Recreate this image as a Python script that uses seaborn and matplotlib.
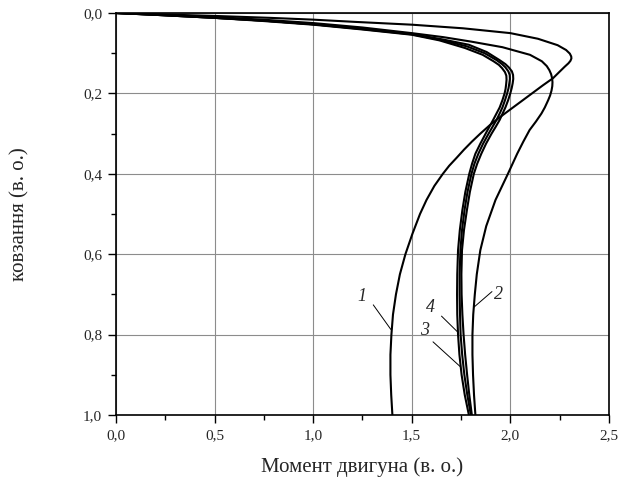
import pandas as pd
import seaborn as sns
from matplotlib import pyplot as plt
from matplotlib.ticker import MultipleLocator, FuncFormatter

# slip (s) and torque (M), per curve
c1_s = [0.000, 0.003, 0.0074, 0.012, 0.0165, 0.022, 0.029, 0.038, 0.050, 0.064, 0.080,
        0.092, 0.101, 0.108, 0.113, 0.119, 0.125, 0.134, 0.146, 0.162, 0.180, 0.200,
        0.220, 0.241, 0.260, 0.279, 0.300, 0.320, 0.340, 0.360, 0.380, 0.400, 0.430,
        0.465, 0.500, 0.550, 0.600, 0.650, 0.700, 0.750, 0.800, 0.850, 0.900, 0.950, 1.000]
c1_m = [0.00, 0.20, 0.51, 0.78, 1.00, 1.21, 1.50, 1.76, 2.00, 2.14, 2.24,
        2.283, 2.302, 2.309, 2.31, 2.305, 2.295, 2.275, 2.25, 2.217, 2.165, 2.11,
        2.055, 1.997, 1.945, 1.896, 1.848, 1.805, 1.765, 1.728, 1.69, 1.658, 1.615,
        1.575, 1.542, 1.503, 1.468, 1.440, 1.420, 1.405, 1.397, 1.392, 1.392, 1.396, 1.402]

c2_s = [0.000, 0.004, 0.010, 0.017, 0.025, 0.036, 0.050, 0.060, 0.071, 0.085, 0.104,
        0.120, 0.132, 0.142, 0.152, 0.162, 0.172, 0.182, 0.193, 0.205, 0.217, 0.235,
        0.250, 0.270, 0.291, 0.320, 0.350, 0.400, 0.465, 0.530, 0.590, 0.650, 0.700,
        0.750, 0.800, 0.850, 0.900, 0.950, 1.000]
c2_m = [0.00, 0.20, 0.50, 0.76, 1.00, 1.25, 1.50, 1.66, 1.80, 1.96, 2.10,
        2.16, 2.185, 2.198, 2.207, 2.212, 2.214, 2.213, 2.209, 2.202, 2.192, 2.175,
        2.158, 2.13, 2.098, 2.066, 2.035, 1.988, 1.925, 1.878, 1.848, 1.830, 1.820,
        1.812, 1.808, 1.808, 1.811, 1.816, 1.823]

c3_s = [0.000, 0.0045, 0.012, 0.019, 0.028, 0.040, 0.053, 0.067, 0.083, 0.100, 0.117,
        0.127, 0.135, 0.145, 0.154, 0.164, 0.175, 0.187, 0.200, 0.217, 0.235, 0.250,
        0.266, 0.283, 0.300, 0.325, 0.350, 0.375, 0.400, 0.445, 0.490, 0.540, 0.590,
        0.650, 0.700, 0.750, 0.800, 0.850, 0.900, 0.950, 1.000]
c3_m = [0.00, 0.20, 0.50, 0.75, 1.00, 1.25, 1.50, 1.65, 1.78, 1.87, 1.93,
        1.958, 1.975, 1.990, 1.997, 1.998, 1.995, 1.991, 1.984, 1.973, 1.960, 1.946,
        1.930, 1.910, 1.890, 1.862, 1.838, 1.818, 1.803, 1.783, 1.768, 1.755, 1.747,
        1.743, 1.743, 1.745, 1.748, 1.756, 1.767, 1.782, 1.800]

c4_s = [0.000, 0.0045, 0.012, 0.020, 0.029, 0.041, 0.054, 0.068, 0.087, 0.104, 0.120,
        0.129, 0.137, 0.147, 0.156, 0.166, 0.177, 0.189, 0.200, 0.217, 0.235, 0.250,
        0.266, 0.283, 0.300, 0.325, 0.350, 0.375, 0.400, 0.445, 0.490, 0.540, 0.590,
        0.650, 0.700, 0.750, 0.800, 0.850, 0.900, 0.950, 1.000]
c4_m = [0.00, 0.20, 0.50, 0.75, 1.00, 1.25, 1.50, 1.64, 1.77, 1.86, 1.915,
        1.942, 1.958, 1.973, 1.980, 1.981, 1.979, 1.976, 1.971, 1.960, 1.946, 1.930,
        1.913, 1.894, 1.875, 1.848, 1.823, 1.806, 1.792, 1.772, 1.757, 1.744, 1.735,
        1.731, 1.730, 1.731, 1.735, 1.742, 1.753, 1.769, 1.790]

# third close curve of the bundle, not numbered on the chart
c5_s = [0.000, 0.0045, 0.012, 0.019, 0.028, 0.039, 0.052, 0.066, 0.079, 0.097, 0.117,
        0.127, 0.135, 0.145, 0.154, 0.164, 0.175, 0.187, 0.200, 0.217, 0.235, 0.250,
        0.266, 0.283, 0.300, 0.325, 0.350, 0.375, 0.400, 0.445, 0.490, 0.540, 0.590,
        0.650, 0.700, 0.750, 0.800, 0.850, 0.900, 0.950, 1.000]
c5_m = [0.00, 0.20, 0.50, 0.75, 1.00, 1.25, 1.50, 1.66, 1.79, 1.88, 1.945,
        1.975, 1.992, 2.008, 2.014, 2.015, 2.012, 2.007, 2.000, 1.989, 1.975, 1.961,
        1.946, 1.926, 1.905, 1.877, 1.853, 1.832, 1.815, 1.795, 1.780, 1.765, 1.755,
        1.752, 1.753, 1.757, 1.763, 1.771, 1.781, 1.792, 1.805]

curve_names = ["1", "2", "3", "4", "5"]
curve_s = [c1_s, c2_s, c3_s, c4_s, c5_s]
curve_m = [c1_m, c2_m, c3_m, c4_m, c5_m]

# label text position and leader line (M, s)
label_names = ["1", "2", "3", "4"]
label_xy = [(1.245, 0.706), (1.938, 0.701), (1.566, 0.791), (1.597, 0.732)]
label_start = [(1.305, 0.726), (1.907, 0.693), (1.608, 0.818), (1.651, 0.754)]
label_end = [(1.394, 0.787), (1.815, 0.732), (1.747, 0.880), (1.732, 0.793)]

rows = []
for name, ss, mm in zip(curve_names, curve_s, curve_m):
    for i, (s, m) in enumerate(zip(ss, mm)):
        rows.append({"curve": name, "idx": i, "s": s, "M": m})
df = pd.DataFrame(rows)

sns.set_style("ticks")
plt.rcParams["font.family"] = ["Liberation Serif", "DejaVu Serif"]

fig = plt.figure(figsize=(6.29, 4.95), dpi=100)
ax = fig.add_axes([0.1844, 0.1616, 0.7836, 0.8121])

ax.grid(True, which="major", color="#8c8c8c", linewidth=0.8)
ax.set_axisbelow(True)

sns.lineplot(data=df, x="M", y="s", hue="curve", palette=["black"] * 5,
             sort=False, estimator=None, legend=False, linewidth=1.5, ax=ax)

for name, xy, p0, p1 in zip(label_names, label_xy, label_start, label_end):
    ax.annotate("", xy=p1, xytext=p0,
                arrowprops=dict(arrowstyle="-", color="black", linewidth=0.7,
                                shrinkA=0, shrinkB=0))
    ax.text(xy[0], xy[1], name, fontsize=13, style="italic", ha="center", va="center")

ax.set_xlim(0, 2.5)
ax.set_ylim(1.0, 0.0)
ax.xaxis.set_major_locator(MultipleLocator(0.5))
ax.xaxis.set_minor_locator(MultipleLocator(0.25))
ax.yaxis.set_major_locator(MultipleLocator(0.2))
ax.yaxis.set_minor_locator(MultipleLocator(0.1))
comma = FuncFormatter(lambda v, pos: f"{v:.1f}".replace(".", ","))
ax.xaxis.set_major_formatter(comma)
ax.yaxis.set_major_formatter(comma)

ax.tick_params(which="major", direction="out", length=6, width=1.0,
               labelsize=11, color="black", pad=4)
ax.tick_params(which="minor", direction="out", length=3.5, width=1.0, color="black")
ax.tick_params(top=False, right=False)
for sp in ax.spines.values():
    sp.set_visible(True)
    sp.set_color("black")
    sp.set_linewidth(1.2)

ax.set_xlabel("Момент двигуна (в. о.)", fontsize=15)
ax.set_ylabel("ковзання (в. о.)", fontsize=15)
ax.xaxis.set_label_coords(0.5, -0.105)
ax.yaxis.set_label_coords(-0.175, 0.5)

fig.savefig("out.png", dpi=100)
